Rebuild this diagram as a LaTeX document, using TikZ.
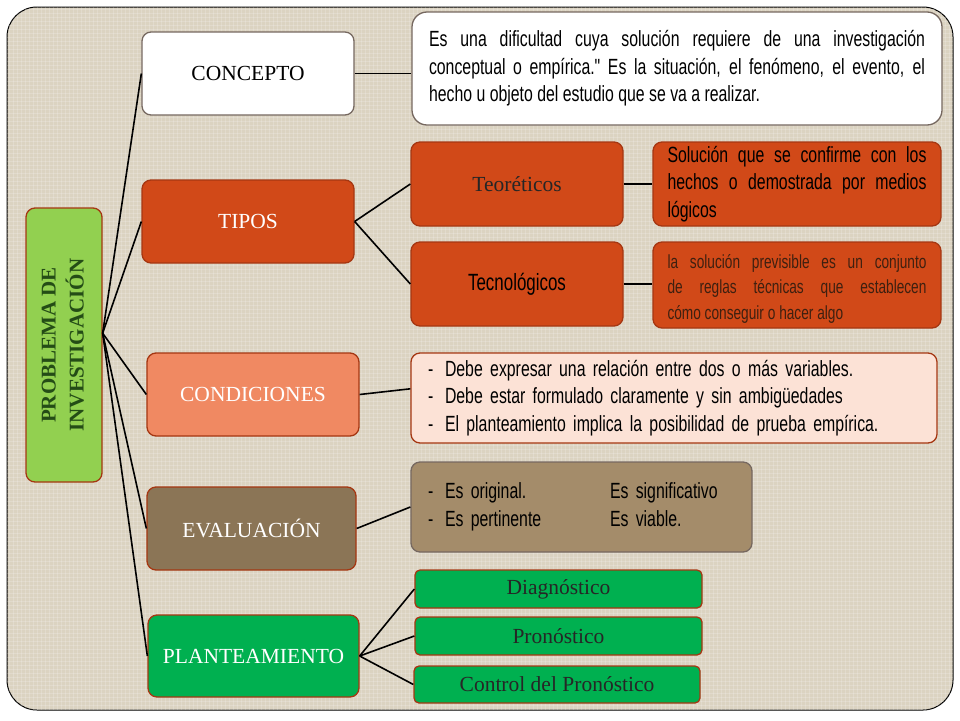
\documentclass[tikz,border=0pt]{standalone}
\usepackage{fontspec}
\usepackage{array}
\setmainfont{Liberation Serif}
\newfontfamily\agency[FakeStretch=0.72]{Liberation Sans}
\definecolor{fondo}{RGB}{219,211,193}
\definecolor{rojizo}{RGB}{209,73,24}
\definecolor{borde-rojo}{RGB}{165,55,18}
\definecolor{salmon}{RGB}{240,137,98}
\definecolor{rosado}{RGB}{252,226,214}
\definecolor{cafe}{RGB}{139,117,86}
\definecolor{caqui}{RGB}{164,140,106}
\definecolor{borde-gris}{RGB}{118,104,96}
\definecolor{verde-claro}{RGB}{146,208,80}
\definecolor{verde}{RGB}{0,176,80}
\definecolor{verde-oscuro}{RGB}{36,76,22}
\definecolor{tinta}{RGB}{62,32,16}

\begin{document}
\begin{tikzpicture}[x=1pt, y=-1pt,
	caja/.style={draw=#1, line width=1.3pt, rounded corners=9pt, inner sep=0pt},
	etiq/.style={font=\fontsize{21.5}{25}\selectfont},
	texto/.style={font=\agency\fontsize{22}{27.5}\selectfont},
	enlace/.style={line width=1.6pt, black}]

			\useasboundingbox (0,0) rectangle (960,720);

			% fondo
			\filldraw[fill=fondo, draw=black, line width=1pt, rounded corners=30pt] (7,7) rectangle (953,710);
			\begin{scope}
				\clip[rounded corners=30pt] (7,7) rectangle (953,710);
				\foreach \i in {9,13,...,953}{
					\draw[white, opacity=0.18, line width=0.6pt] (\i,7)--(\i,710);
						}
				\foreach \j in {9,13,...,710}{
					\draw[white, opacity=0.18, line width=0.6pt] (7,\j)--(953,\j);
						}
			\end{scope}

			% raiz
			\node[caja=borde-rojo, fill=verde-claro, minimum width=76pt, minimum height=274pt, text=verde-oscuro,
				font=\bfseries\fontsize{21}{28}\selectfont] (prob) at (64,345)
				{\rotatebox{90}{\begin{tabular}{@{}c@{}}PROBLEMA DE\\INVESTIGACIÓN\end{tabular}}};

			% primer nivel
			\node[caja=borde-gris, fill=white, minimum width=212pt, minimum height=83pt, etiq] (concepto) at (248,73.5) {CONCEPTO};
			\node[caja=borde-rojo, fill=rojizo, minimum width=212pt, minimum height=83pt, etiq, text=white] (tipos) at (248,221.5) {TIPOS};
			\node[caja=borde-rojo, fill=salmon, minimum width=212pt, minimum height=83pt, etiq, text=white] (cond) at (253,394.5) {CONDICIONES};
			\node[caja=borde-rojo, fill=cafe, minimum width=209pt, minimum height=83pt, etiq, text=white] (eval) at (251.5,528.5) {EVALUACIÓN};
			\node[caja=borde-rojo, fill=verde, minimum width=211pt, minimum height=82pt, etiq, text=white] (plan) at (253.5,656) {PLANTEAMIENTO};

			% segundo nivel
			\node[caja=borde-gris, fill=white, rounded corners=15pt, minimum height=113pt, inner xsep=17pt, text width=496pt,
				align=justify, texto] (def) at (677,68.5)
				{Es una dificultad cuya solución requiere de una investigación\linebreak conceptual o empírica." Es la situación, el fenómeno, el evento, el\linebreak hecho u objeto del estudio que se va a realizar.\par\vspace{-6pt}};

			\node[caja=borde-rojo, fill=rojizo, minimum width=212pt, minimum height=84pt, etiq, text=black!85] (teo) at (517,184) {Teoréticos};
			\node[caja=borde-rojo, fill=rojizo, minimum width=212pt, minimum height=84pt, texto, font=\agency\fontsize{23.5}{27}\selectfont] (tec) at (517,284) {Tecnológicos};

			\node[caja=borde-rojo, fill=rojizo, minimum height=84pt, inner xsep=14.5pt, text width=259pt, align=justify, texto] (sol) at (797,184)
				{Solución que se confirme con los\linebreak hechos o demostrada por medios\linebreak lógicos};
			\node[caja=borde-rojo, fill=rojizo, minimum height=86pt, inner xsep=14.5pt, text width=259pt, align=justify, texto,
				font=\agency\fontsize{19}{25.5}\selectfont, text=tinta] (prev) at (797,285)
				{la solución previsible es un conjunto\linebreak de reglas técnicas que establecen\linebreak cómo conseguir o hacer algo\par\vspace{-7pt}};

			\node[caja=borde-rojo, fill=rosado, minimum height=90pt, inner xsep=17pt, text width=492pt, align=left, texto] (conddet) at (674,398)
				{\begin{tabular}{@{}p{9pt}@{\hspace{8pt}}l@{}}
					- & Debe expresar una relación entre dos o más variables.\\
					- & Debe estar formulado claramente y sin ambigüedades\\
					- & El planteamiento implica la posibilidad de prueba empírica.
				\end{tabular}};

			\node[caja=borde-gris, fill=caqui, minimum height=90pt, inner xsep=17pt, text width=307pt, align=left, texto] (evaldet) at (581.5,507)
				{\begin{tabular}{@{}p{9pt}@{\hspace{8pt}}p{165pt}@{}l@{}}
					- & Es original. & Es significativo\\
					- & Es pertinente & Es viable.
				\end{tabular}};

			\node[caja=borde-rojo, fill=verde, rounded corners=5pt, minimum width=287pt, minimum height=38pt, etiq, text=black!85] (diag) at (558.5,589) {Diagnóstico};
			\node[caja=borde-rojo, fill=verde, rounded corners=5pt, minimum width=287pt, minimum height=38pt, etiq, text=black!85] (pron) at (558.5,636) {Pronóstico};
			\node[caja=borde-rojo, fill=verde, rounded corners=5pt, minimum width=286pt, minimum height=37pt, etiq, text=black!85] (ctrl) at (557,684.5) {Control del Pronóstico};

			% enlaces
			\foreach \n in {concepto,tipos,cond,eval,plan}{
				\draw[enlace] (prob.17)--(\n.west);
					}
			\foreach \n in {teo,tec}{
				\draw[enlace] (tipos.east)--(\n.west);
					}
			\foreach \n in {diag,pron,ctrl}{
				\draw[enlace] (plan.east)--(\n.west);
					}
			\draw[enlace] (concepto.east)--(concepto.east -| def.west);
			\draw[enlace] (teo.east)--(teo.east -| sol.west);
			\draw[enlace] (tec.east)--(tec.east -| prev.west);
			\draw[enlace] (cond.east)--(conddet.178);
			\draw[enlace] (eval.east)--(evaldet.west);

\end{tikzpicture}
\end{document}
